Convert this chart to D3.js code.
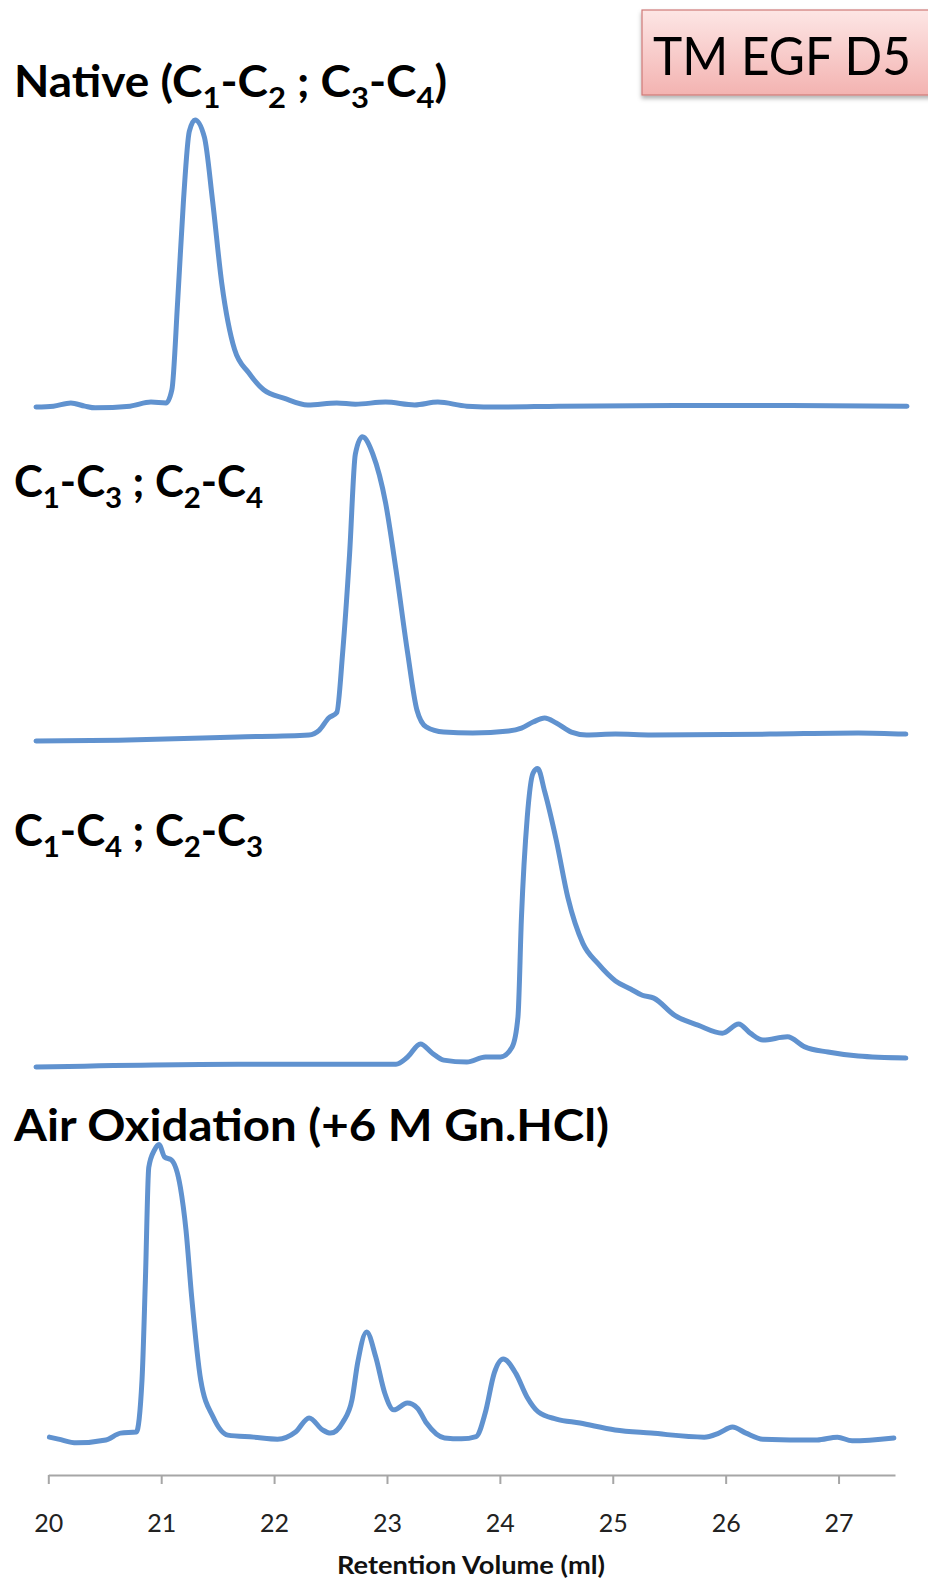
<!DOCTYPE html>
<html>
<head>
<meta charset="utf-8">
<script src="https://cdn.jsdelivr.net/npm/d3@7"></script>
<style>
  html, body { margin: 0; padding: 0; background: #fff; }
  svg { display: block; }
</style>
</head>
<body>
<svg id="chart" width="928" height="1582"></svg>
<script>
// Retention volume (ml) and normalised UV signal for each elution profile
const nativeVolume = [20.00, 20.15, 20.30, 20.42, 20.51, 20.81, 20.99, 21.12, 21.17, 21.22, 21.27, 21.32, 21.37, 21.45, 21.52, 21.60, 21.71, 21.83, 21.96, 22.14, 22.34, 22.59, 22.75, 23.01, 23.26, 23.46, 23.71, 24.00, 24.50, 25.50, 26.50, 27.50];
const nativeSignal = [0, 0.3, 1.4, 0.3, -0.3, 0.3, 1.7, 1.4, 6, 37, 72, 96, 100, 94, 72, 43, 20, 12, 6, 3, 0.7, 1.4, 1.0, 1.7, 0.7, 1.7, 0.3, 0, 0.3, 0.5, 0.5, 0.3];

const iso13Volume = [20.00, 20.71, 21.74, 22.35, 22.44, 22.52, 22.59, 22.64, 22.70, 22.75, 22.81, 22.90, 23.01, 23.10, 23.20, 23.28, 23.36, 23.51, 23.76, 24.07, 24.18, 24.28, 24.38, 24.48, 24.61, 24.74, 24.99, 25.30, 26.32, 27.08, 27.49];
const iso13Signal = [0, 0.3, 1.4, 2.1, 3.8, 8, 9.9, 30.5, 65, 100, 106, 100, 83, 59.6, 30.7, 10.8, 4.9, 3.1, 2.8, 3.5, 4.5, 6.6, 8, 6.3, 3.1, 2.1, 2.4, 2.1, 2.4, 2.8, 2.4];

const iso14Volume = [20.00, 21.74, 23.10, 23.20, 23.31, 23.41, 23.51, 23.71, 23.87, 24.00, 24.10, 24.15, 24.18, 24.23, 24.28, 24.32, 24.38, 24.48, 24.58, 24.71, 24.84, 24.99, 25.12, 25.22, 25.32, 25.50, 25.70, 25.91, 26.05, 26.15, 26.26, 26.47, 26.62, 26.82, 27.08, 27.49];
const iso14Signal = [0, 1, 1, 3.5, 8, 4.9, 2.4, 1.7, 3.5, 3.5, 7, 17.4, 52, 87, 102.4, 104, 96, 79, 59, 43, 36, 30, 27.2, 25, 24, 18, 14.6, 11.8, 15, 11.8, 9.4, 10.5, 7, 5.2, 3.8, 3.1];

const airVolume = [20.01, 20.09, 20.25, 20.51, 20.64, 20.78, 20.83, 20.86, 20.89, 20.94, 20.98, 21.03, 21.09, 21.17, 21.22, 21.27, 21.35, 21.46, 21.59, 21.82, 22.03, 22.19, 22.31, 22.43, 22.50, 22.61, 22.69, 22.74, 22.82, 22.90, 22.98, 23.06, 23.18, 23.27, 23.35, 23.51, 23.66, 23.79, 23.87, 23.95, 24.03, 24.14, 24.24, 24.34, 24.50, 24.71, 25.02, 25.34, 25.81, 25.94, 26.06, 26.18, 26.33, 26.81, 26.99, 27.12, 27.49];
const airSignal = [1, 0.3, -1, 0, 2.4, 2.8, 20.9, 55.7, 95, 101, 103, 98.6, 97.6, 88, 73, 49.8, 20.9, 8, 1.7, 1, 0.3, 2.8, 7.7, 3.5, 2.4, 6.3, 14, 26.8, 37.6, 29, 16.4, 10.5, 12.9, 11.1, 5.9, 0.7, 0.4, 1.2, 9.4, 23.3, 28.2, 23.3, 15, 9.8, 7.3, 5.9, 3.5, 2.4, 1, 2.4, 4.5, 2.4, 0.3, 0, 1, -0.3, 0.7];

const volumeTicks = [20, 21, 22, 23, 24, 25, 26, 27];
const axisTitle = "Retention Volume (ml)";
const figureTitle = "TM EGF D5";

// Panel captions: [text, isSubscript] runs
const captionNative = [["Native (C", false], ["1", true], ["-C", false], ["2", true], [" ; C", false], ["3", true], ["-C", false], ["4", true], [")", false]];
const captionIso13 = [["C", false], ["1", true], ["-C", false], ["3", true], [" ; C", false], ["2", true], ["-C", false], ["4", true]];
const captionIso14 = [["C", false], ["1", true], ["-C", false], ["4", true], [" ; C", false], ["2", true], ["-C", false], ["3", true]];
const captionAir = [["Air Oxidation (+6 M Gn.HCl)", false]];

// ---- layout ----
const svg = d3.select("#chart");
const lineColor = "#6092cf";
const fontFamily = "Lato, 'Open Sans', sans-serif";

// Stacked traces share the volume range; the top three were placed slightly wider than the axis
const xStacked = d3.scaleLinear().domain([20, 27.5]).range([36, 907]);
const xAxisScale = d3.scaleLinear().domain([20, 27.5]).range([48.3, 895]);

const panels = [
  { volume: nativeVolume, signal: nativeSignal, base: 407, x: xStacked, caption: captionNative, capY: 97, capLen: 433 },
  { volume: iso13Volume, signal: iso13Signal, base: 741, x: xStacked, caption: captionIso13, capY: 497, capLen: 249 },
  { volume: iso14Volume, signal: iso14Signal, base: 1067, x: xStacked, caption: captionIso14, capY: 846, capLen: 249 },
  { volume: airVolume, signal: airSignal, base: 1440, x: xAxisScale, caption: captionAir, capY: 1141, capLen: 595 }
];

panels.forEach(p => {
  const y = d3.scaleLinear().domain([0, 100]).range([p.base, p.base - 287]);
  const pts = p.volume.map((v, i) => [v, p.signal[i]]);
  const line = d3.line()
    .x(d => p.x(d[0]))
    .y(d => y(d[1]))
    .curve(d3.curveMonotoneX);
  svg.append("path")
    .datum(pts)
    .attr("d", line)
    .attr("fill", "none")
    .attr("stroke", lineColor)
    .attr("stroke-width", 5)
    .attr("stroke-linejoin", "round")
    .attr("stroke-linecap", "round");

  const t = svg.append("text")
    .attr("x", 14)
    .attr("y", p.capY)
    .attr("font-family", fontFamily)
    .attr("font-weight", 700)
    .attr("font-size", 43)
    .attr("fill", "#000")
    .attr("textLength", p.capLen)
    .attr("lengthAdjust", "spacingAndGlyphs");
  let lowered = false;
  p.caption.forEach(([s, sub]) => {
    const ts = t.append("tspan").text(s);
    if (sub && !lowered) { ts.attr("dy", 11).attr("font-size", 29); lowered = true; }
    else if (sub) { ts.attr("font-size", 29); }
    else if (!sub && lowered) { ts.attr("dy", -11); lowered = false; }
  });
});

// ---- x axis ----
const axisY = 1475;
const axis = d3.axisBottom(xAxisScale)
  .tickValues(volumeTicks)
  .tickFormat(d3.format("d"))
  .tickSize(9)
  .tickSizeOuter(0)
  .tickPadding(30);

const gAxis = svg.append("g")
  .attr("transform", `translate(0,${axisY})`)
  .call(axis);
gAxis.select(".domain").attr("stroke", "#a6a6a6").attr("stroke-width", 2);
gAxis.selectAll(".tick line").attr("stroke", "#a6a6a6").attr("stroke-width", 2);
gAxis.selectAll(".tick text")
  .attr("font-family", fontFamily)
  .attr("font-size", 25)
  .attr("fill", "#222");

svg.append("text")
  .attr("x", 471)
  .attr("y", 1574)
  .attr("text-anchor", "middle")
  .attr("font-family", fontFamily)
  .attr("font-weight", 700)
  .attr("font-size", 25)
  .attr("fill", "#111")
  .attr("textLength", 268)
  .attr("lengthAdjust", "spacingAndGlyphs")
  .text(axisTitle);

// ---- title badge ----
const defs = svg.append("defs");
const grad = defs.append("linearGradient").attr("id", "badgeFill")
  .attr("x1", 0).attr("y1", 0).attr("x2", 0).attr("y2", 1);
grad.append("stop").attr("offset", "0%").attr("stop-color", "#fde6e5");
grad.append("stop").attr("offset", "100%").attr("stop-color", "#f3b3b1");
const shadow = defs.append("filter").attr("id", "badgeShadow")
  .attr("x", "-10%").attr("y", "-10%").attr("width", "130%").attr("height", "140%");
shadow.append("feDropShadow").attr("dx", 0).attr("dy", 3).attr("stdDeviation", 2)
  .attr("flood-color", "#000").attr("flood-opacity", 0.3);

svg.append("rect")
  .attr("x", 642).attr("y", 10)
  .attr("width", 320).attr("height", 85)
  .attr("fill", "url(#badgeFill)")
  .attr("stroke", "#cf7a77")
  .attr("stroke-width", 1.2)
  .attr("filter", "url(#badgeShadow)");

svg.append("text")
  .attr("x", 653).attr("y", 75)
  .attr("font-family", fontFamily)
  .attr("font-size", 53)
  .attr("fill", "#000")
  .attr("textLength", 258)
  .attr("lengthAdjust", "spacingAndGlyphs")
  .text(figureTitle);
</script>
</body>
</html>
